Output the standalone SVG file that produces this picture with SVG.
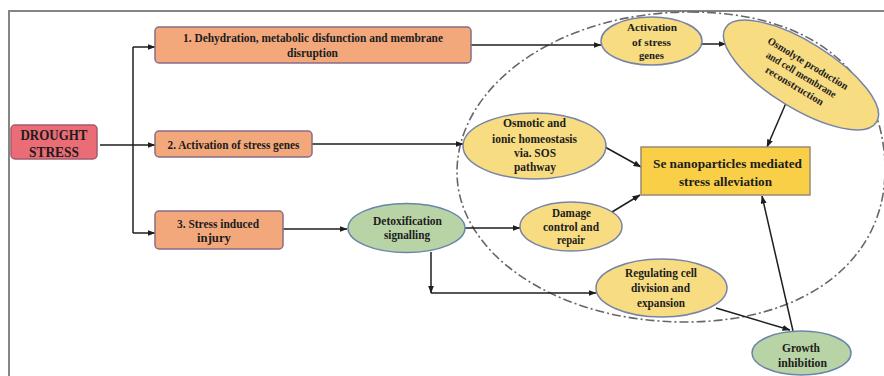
<svg xmlns="http://www.w3.org/2000/svg" width="884" height="376" viewBox="0 0 884 376">
  <style>
    text { font-family: "Liberation Serif", "Times New Roman", serif; font-weight: bold; fill: #1c1c1c; text-anchor: middle; }
    .frame { fill: none; stroke: #858585; stroke-width: 2; }
    .zone { fill: none; stroke: #6a6666; stroke-width: 1.6; stroke-dasharray: 9 3 2 3; }
    .red { fill: #ea6c76; stroke: #a55a6c; stroke-width: 1.5; }
    .orange { fill: #f3a87c; stroke: #8a6c84; stroke-width: 1.5; }
    .yellow { fill: #f8dc82; stroke: #7884a6; stroke-width: 1.5; }
    .gold { fill: #f9cf47; stroke: #9b8b72; stroke-width: 1.5; }
    .green { fill: #b8d3a5; stroke: #6a84aa; stroke-width: 1.5; }
    .link { fill: none; stroke: #1e1e1e; stroke-width: 1.5; }
    .arrow { marker-end: url(#head); }
  </style>
  <defs>
    <marker id="head" markerWidth="8" markerHeight="6" refX="7.5" refY="3" orient="auto" markerUnits="userSpaceOnUse">
      <path d="M0,0 L8,3 L0,6 z" fill="#1e1e1e"/>
    </marker>
  </defs>

  <rect width="884" height="376" fill="#ffffff"/>
  <rect class="frame" x="9" y="11" width="900" height="400"/>

  <!-- region of nanoparticle action -->
  <path class="zone" d="M690,12 C811,12 885,72 885,170 C885,261 805,322 685,322 C559,322 457,255 457,172 C457,84 561,12 690,12 Z"/>

  <g id="connectors">
    <path class="link arrow" d="M100,145 L155,145"/>
    <path class="link" d="M133,47 L133,233"/>
    <path class="link arrow" d="M133,47 L155,47"/>
    <path class="link arrow" d="M133,233 L155,233"/>
    <path class="link arrow" d="M471,45 L601,45"/>
    <path class="link arrow" d="M702,44 L726,44"/>
    <path class="link arrow" d="M312,144 L463,144"/>
    <path class="link arrow" d="M786,103 L767,147"/>
    <path class="link arrow" d="M605,147 L641,167"/>
    <path class="link arrow" d="M283,229 L347,229"/>
    <path class="link arrow" d="M465,228 L520,228"/>
    <path class="link arrow" d="M612,212 L640,195"/>
    <path class="link arrow" d="M431,252 L431,293"/>
    <path class="link arrow" d="M431,293 L596,293"/>
    <path class="link arrow" d="M716,308 L790,330"/>
    <path class="link arrow" d="M793,331 L762,196"/>
  </g>

  <g id="drought">
    <rect class="red" x="11" y="125" width="86" height="34" rx="4"/>
    <text x="54" y="140" font-size="15" textLength="67" lengthAdjust="spacingAndGlyphs">DROUGHT</text>
    <text x="54" y="157" font-size="15" textLength="50" lengthAdjust="spacingAndGlyphs">STRESS</text>
  </g>

  <g id="dehydration">
    <rect class="orange" x="155" y="27" width="316" height="36" rx="4"/>
    <text x="313" y="42" font-size="12.5" textLength="260" lengthAdjust="spacingAndGlyphs">1. Dehydration, metabolic disfunction and membrane</text>
    <text x="312.5" y="57" font-size="12.5" textLength="51" lengthAdjust="spacingAndGlyphs">disruption</text>
  </g>

  <g id="activation-genes">
    <rect class="orange" x="155" y="131" width="157" height="26" rx="4"/>
    <text x="233.5" y="149" font-size="13" textLength="132" lengthAdjust="spacingAndGlyphs">2. Activation of stress genes</text>
  </g>

  <g id="injury">
    <rect class="orange" x="155" y="211" width="128" height="38" rx="4"/>
    <text x="218" y="228" font-size="12.5" textLength="82" lengthAdjust="spacingAndGlyphs">3. Stress induced</text>
    <text x="214" y="242" font-size="12.5" textLength="34" lengthAdjust="spacingAndGlyphs">injury</text>
  </g>

  <g id="stress-genes">
    <ellipse class="yellow" cx="651.5" cy="41" rx="50.5" ry="24"/>
    <text x="652" y="31" font-size="11" textLength="50" lengthAdjust="spacingAndGlyphs">Activation</text>
    <text x="651.5" y="46" font-size="11" textLength="39" lengthAdjust="spacingAndGlyphs">of stress</text>
    <text x="651.5" y="59" font-size="11" textLength="25" lengthAdjust="spacingAndGlyphs">genes</text>
  </g>

  <g id="osmolyte">
    <ellipse class="yellow" cx="801" cy="75" rx="89" ry="33" transform="rotate(32 801 75)"/>
    <g transform="rotate(31 801 75)">
      <text x="801" y="65" font-size="10.5" textLength="92" lengthAdjust="spacingAndGlyphs">Osmolyte production</text>
      <text x="801" y="78" font-size="10.5" textLength="80" lengthAdjust="spacingAndGlyphs">and cell membrane</text>
      <text x="801" y="91" font-size="10.5" textLength="66" lengthAdjust="spacingAndGlyphs">reconstruction</text>
    </g>
  </g>

  <g id="homeostasis">
    <ellipse class="yellow" cx="534.5" cy="146" rx="71.5" ry="33"/>
    <text x="534.5" y="127" font-size="11.5" textLength="63" lengthAdjust="spacingAndGlyphs">Osmotic and</text>
    <text x="534.5" y="143" font-size="11.5" textLength="85" lengthAdjust="spacingAndGlyphs">ionic homeostasis</text>
    <text x="535" y="157" font-size="11.5" textLength="42" lengthAdjust="spacingAndGlyphs">via. SOS</text>
    <text x="535" y="171" font-size="11.5" textLength="42" lengthAdjust="spacingAndGlyphs">pathway</text>
  </g>

  <g id="alleviation">
    <rect class="gold" x="641" y="147" width="169" height="48"/>
    <text x="727.5" y="168" font-size="13.5" textLength="149" lengthAdjust="spacingAndGlyphs">Se nanoparticles mediated</text>
    <text x="725.5" y="186" font-size="13.5" textLength="93" lengthAdjust="spacingAndGlyphs">stress alleviation</text>
  </g>

  <g id="detoxification">
    <ellipse class="green" cx="406.5" cy="228" rx="58.5" ry="24.5"/>
    <text x="407.5" y="225" font-size="12.5" textLength="69" lengthAdjust="spacingAndGlyphs">Detoxification</text>
    <text x="407" y="239" font-size="12.5" textLength="46" lengthAdjust="spacingAndGlyphs">signalling</text>
  </g>

  <g id="damage-control">
    <ellipse class="yellow" cx="571" cy="226.5" rx="51" ry="24.5"/>
    <text x="571.5" y="217" font-size="12" textLength="39" lengthAdjust="spacingAndGlyphs">Damage</text>
    <text x="571" y="231" font-size="12" textLength="56" lengthAdjust="spacingAndGlyphs">control and</text>
    <text x="571" y="244" font-size="12" textLength="28" lengthAdjust="spacingAndGlyphs">repair</text>
  </g>

  <g id="cell-division">
    <ellipse class="yellow" cx="661.5" cy="288" rx="65.5" ry="29"/>
    <text x="661" y="277" font-size="11.5" textLength="72" lengthAdjust="spacingAndGlyphs">Regulating cell</text>
    <text x="660.5" y="292" font-size="11.5" textLength="59" lengthAdjust="spacingAndGlyphs">division and</text>
    <text x="661" y="307" font-size="11.5" textLength="48" lengthAdjust="spacingAndGlyphs">expansion</text>
  </g>

  <g id="growth-inhibition">
    <ellipse class="green" cx="801.5" cy="353" rx="49.5" ry="22"/>
    <text x="801" y="352" font-size="12.5" textLength="38" lengthAdjust="spacingAndGlyphs">Growth</text>
    <text x="802.5" y="367" font-size="12.5" textLength="49" lengthAdjust="spacingAndGlyphs">inhibition</text>
  </g>
</svg>
